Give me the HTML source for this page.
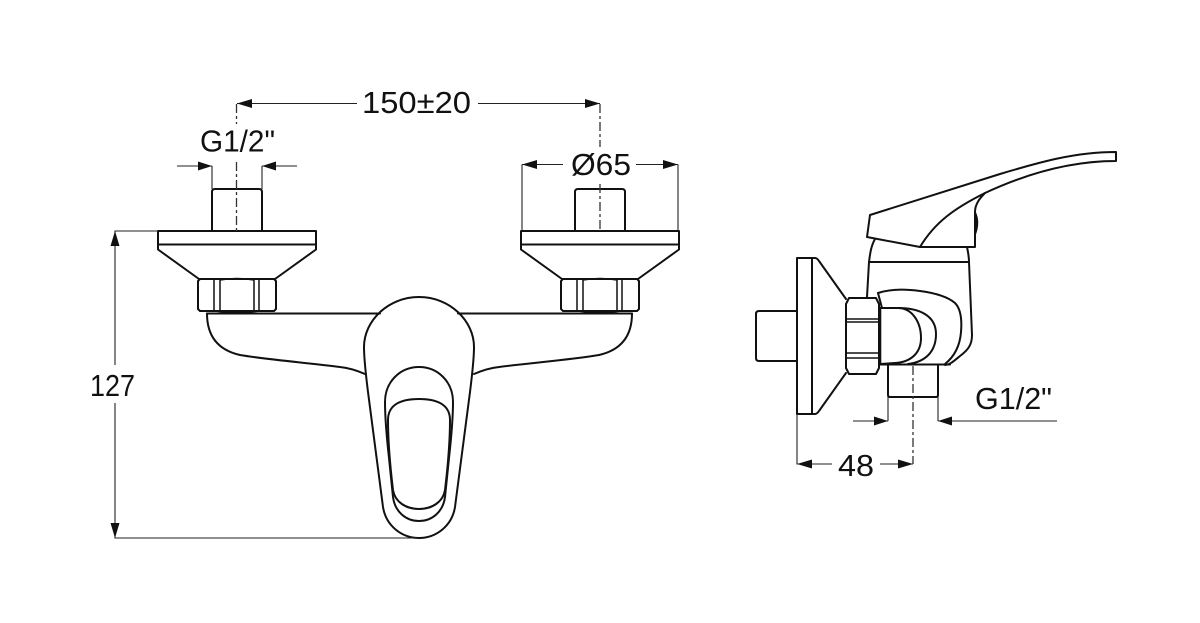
<!DOCTYPE html>
<html><head><meta charset="utf-8">
<style>
html,body{margin:0;padding:0;background:#fff;width:1200px;height:623px;overflow:hidden}
svg{display:block}
text{font-family:"Liberation Sans",sans-serif;font-size:31px;fill:#111}
.o{fill:none;stroke:#111;stroke-width:2;stroke-linejoin:round;stroke-linecap:round}
.t{stroke-width:1.5}
.d{fill:none;stroke:#222;stroke-width:1.1}
.c{fill:none;stroke:#333;stroke-width:1.3;stroke-dasharray:9 3 3 3}
.a{fill:#111;stroke:none}
</style></head>
<body>
<svg width="1200" height="623" viewBox="0 0 1200 623" xmlns="http://www.w3.org/2000/svg">
<defs>
<g id="valve">
  <path class="o" d="M0 42V3Q0 0 3 0H47Q50 0 50 3V42"/>
  <path class="o" d="M-54 42H104V60.500L63 90H-13L-54 60.500Z"/>
  <path class="o" d="M-54 55.500H104"/>
  <path class="o" d="M-12 90H62L64 92V120L62 122H-12L-14 120V92Z"/>
  <path class="o t" d="M2 90V122M8 90V122M42 90V122M47 90V122M8 91Q25 88 42 91M2 122Q25 125 47 122"/>
</g>
</defs>

<!-- Front view valves -->
<use href="#valve" x="212" y="189"/>
<use href="#valve" x="575" y="189"/>

<!-- Front view body -->
<path class="o" d="M207 313.500H380M458 313.500H632"/>
<path class="o" d="M207 313.500C207 336 218 350 240 355C270 360 310 363 340 367C350 368 358 371 365 374"/>
<path class="o" d="M632 313.500C632 336 621 350 599 355C569 360 529 363 499 367C489 368 481 371 474 374"/>
<path class="o" d="M419 297C388 297 364 321 364 347C364 360 366 376 368 392L383 507C386 526 402 538 419 538C436 538 452 526 455 507L470 392C472 376 474 360 474 347C474 321 450 297 419 297Z"/>
<path class="o" d="M419 367C400 367 385 382 385 402C385 420 387 440 389 458L393 497C395 512 406 521 419 521C432 521 443 512 445 497L449 458C451 440 453 420 453 402C453 382 438 367 419 367Z"/>
<path class="o" d="M419 399C402 399 388 404 388 420C388 440 390 465 393 490C395 502 406 509 419 509C432 509 443 502 445 490C448 465 450 440 450 420C450 404 436 399 419 399Z"/>

<!-- Front centrelines -->
<path class="c" d="M236.500 104V124M236.500 162V231"/>
<path class="c" d="M600 104V147M600 184V231"/>

<!-- 150±20 -->
<path class="d" d="M237 103.500H357M478 103.500H600"/>
<path class="a" d="M237 103.500L252 99V108Z"/>
<path class="a" d="M600 103.500L585 99V108Z"/>
<text x="362" y="113" textLength="109" lengthAdjust="spacingAndGlyphs">150±20</text>

<!-- G1/2" left -->
<text x="200" y="151.500" textLength="75" lengthAdjust="spacingAndGlyphs">G1/2"</text>
<path class="d" d="M177 166H212M262 166H297M212 166V189M262 166V189"/>
<path class="a" d="M212 166L198 161.500V170.500Z"/>
<path class="a" d="M262 166L276 161.500V170.500Z"/>

<!-- Ø65 -->
<path class="d" d="M522 164.500H563M636 164.500H678M522 164.500V231M678 164.500V231"/>
<path class="a" d="M522 164.500L537 160V169Z"/>
<path class="a" d="M678 164.500L663 160V169Z"/>
<text x="571" y="175" textLength="60" lengthAdjust="spacingAndGlyphs">Ø65</text>

<!-- 127 -->
<path class="d" d="M158 231H115V365M115 403V538H418"/>
<path class="a" d="M115 231L110.500 246H119.500Z"/>
<path class="a" d="M115 538L110.500 523H119.500Z"/>
<text x="90" y="396" textLength="45" lengthAdjust="spacingAndGlyphs">127</text>

<!-- Side view: lever -->
<path class="o" d="M870 215L1000 174C1040 162 1075 152 1116 152V161C1075 161 1030 172 985 193C955 208 935 222 920 247L867 237Z"/>
<path class="o" d="M920 247H975V212C975 204 980 198 985 193"/>
<path class="o t" d="M975 212Q980 222 975 235M975 212Q977 222 975 235"/>

<!-- Side view: body -->
<path class="o" d="M875 239C871 246 870 254 869 262H969C969 256 968 252 967 247"/>
<path class="o" d="M869 262L867 297M969 262L972 335C972 345 968 350 960 356C955 360 950 365 945 365"/>
<path class="o" d="M878 293C890 289 905 289 920 291C935 293 948 297 955 303C961 309 962 320 961 332C960 345 955 356 945 364"/>
<path class="o" d="M878 293L882 308"/>
<path class="o" d="M880 308H898C912 308 921 322 921 338C921 352 912 362 895 363L880 364"/>
<path class="o" d="M898 308C920 308 936 316 936 334C936 352 925 362 908 364"/>
<path class="o" d="M880 364.500H950"/>
<path class="o" d="M880 308V364" style="stroke-width:2.6"/>

<!-- Side: flange -->
<path class="o" d="M797 414V258H815Q817 258 819 261L846 299M797 414H815Q817 414 819 411L846 373M812 258V414"/>
<path class="o" d="M797 311H759Q756 311 756 314V358Q756 361 759 361H797"/>
<path class="o" d="M849 298H876L879 304V368L876 374H849L846 368V304Z"/>
<path class="o t" d="M847 319H878M847 322H878M847 353H878M847 358H878"/>

<!-- Side: lower stub -->
<path class="o" d="M888 365V395Q888 397 890 397H936Q938 397 938 395V365"/>
<path class="c" d="M913 366V464"/>

<!-- G1/2" side -->
<path class="d" d="M853 421H888M938 421H1057M888 397V421M938 397V421"/>
<path class="a" d="M888 421L874 416.500V425.500Z"/>
<path class="a" d="M938 421L952 416.500V425.500Z"/>
<text x="975" y="409" textLength="77" lengthAdjust="spacingAndGlyphs">G1/2"</text>

<!-- 48 -->
<path class="d" d="M797 414V464H832M880 464H913"/>
<path class="a" d="M797 464L812 459.500V468.500Z"/>
<path class="a" d="M913 464L898 459.500V468.500Z"/>
<text x="838" y="476" textLength="36" lengthAdjust="spacingAndGlyphs">48</text>
</svg>
</body></html>
